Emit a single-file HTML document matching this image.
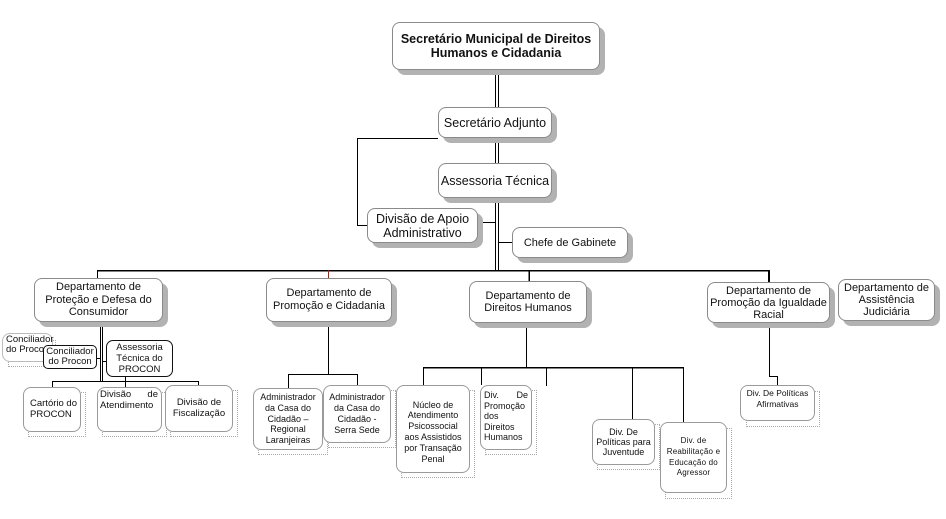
<!DOCTYPE html>
<html>
<head>
<meta charset="utf-8">
<style>
  html,body{margin:0;padding:0;background:#fff;}
  body{width:946px;height:519px;position:relative;overflow:hidden;font-family:"Liberation Sans",Arial,sans-serif;color:#111;}
  svg{position:absolute;left:0;top:0;}
  .b{position:absolute;box-sizing:border-box;background:#fff;border:1px solid #8a8a8a;border-radius:8px;
     box-shadow:5px 5px 0 #b2b2b2;display:flex;flex-direction:column;justify-content:center;align-items:center;text-align:center;white-space:nowrap;}
  .s{position:absolute;box-sizing:border-box;background:#fff;border:1px solid #9a9a9a;border-radius:8px;
     display:flex;flex-direction:column;justify-content:center;align-items:center;text-align:center;white-space:nowrap;font-size:9px;line-height:10.8px;}
  .d{position:absolute;box-sizing:border-box;border:1px dotted #aaa;}
  .k{border-color:#111;}
</style>
</head>
<body>
<svg width="946" height="519" viewBox="0 0 946 519" shape-rendering="crispEdges">
  <g stroke="#000" stroke-width="1" fill="none">
    <line x1="495.5" y1="70" x2="495.5" y2="271"/>
    <line x1="498.5" y1="70" x2="498.5" y2="271"/>
    <polyline points="438,138.5 357.5,138.5 357.5,225.5 367,225.5"/>
    <line x1="478" y1="222.5" x2="495" y2="222.5"/>
    <line x1="498" y1="242.5" x2="512" y2="242.5"/>
    <line x1="97" y1="270.5" x2="769" y2="270.5" stroke-width="1.5"/>
    <line x1="97.5" y1="270" x2="97.5" y2="278"/>
    <line x1="328.5" y1="270" x2="328.5" y2="278" stroke="#8a3020"/>
    <line x1="529" y1="270" x2="529" y2="281" stroke-width="1.5"/>
    <line x1="769" y1="270" x2="769" y2="282" stroke-width="2"/>
    <line x1="100.5" y1="322" x2="100.5" y2="381"/>
    <line x1="102.5" y1="322" x2="102.5" y2="381"/>
    <line x1="52" y1="381.5" x2="198" y2="381.5"/>
    <line x1="52.5" y1="381" x2="52.5" y2="387"/>
    <line x1="125.5" y1="377" x2="125.5" y2="387"/>
    <line x1="198.5" y1="381" x2="198.5" y2="385"/>
    <line x1="97" y1="358.5" x2="100" y2="358.5"/>
    <line x1="102" y1="361.5" x2="106" y2="361.5"/>
    <line x1="328.5" y1="322" x2="328.5" y2="374"/>
    <line x1="288" y1="374.5" x2="357" y2="374.5"/>
    <line x1="288.5" y1="374" x2="288.5" y2="388"/>
    <line x1="357.5" y1="374" x2="357.5" y2="385"/>
    <line x1="526.5" y1="323" x2="526.5" y2="367"/>
    <line x1="423" y1="367.5" x2="683" y2="367.5" stroke-width="1.5"/>
    <line x1="423.5" y1="367" x2="423.5" y2="385"/>
    <line x1="481.5" y1="367" x2="481.5" y2="385"/>
    <line x1="546.5" y1="367" x2="546.5" y2="386"/>
    <line x1="632.5" y1="367" x2="632.5" y2="419"/>
    <line x1="683.5" y1="367" x2="683.5" y2="422"/>
    <polyline points="769.5,323 769.5,376.5 777.5,376.5 777.5,385"/>
  </g>
</svg>

<div class="b" style="left:392px;top:22px;width:208px;height:48px;font-weight:bold;font-size:12.5px;line-height:14px;">
  <div>Secretário Municipal de Direitos</div><div>Humanos e Cidadania</div>
</div>
<div class="b" style="left:438px;top:107px;width:114px;height:31px;font-size:12.5px;">Secretário Adjunto</div>
<div class="b" style="left:438px;top:163px;width:114px;height:35px;font-size:12.5px;">Assessoria Técnica</div>
<div class="b" style="left:367px;top:208px;width:111px;height:35px;font-size:12.5px;line-height:14px;">
  <div>Divisão de Apoio</div><div>Administrativo</div>
</div>
<div class="b" style="left:512px;top:227px;width:116px;height:31px;font-size:11px;">Chefe de Gabinete</div>

<div class="b" style="left:34px;top:278px;width:129px;height:44px;font-size:11px;line-height:12.5px;">
  <div>Departamento de</div><div>Proteção e Defesa do</div><div>Consumidor</div>
</div>
<div class="b" style="left:266px;top:278px;width:126px;height:44px;font-size:11px;line-height:13px;">
  <div>Departamento de</div><div>Promoção e Cidadania</div>
</div>
<div class="b" style="left:469px;top:281px;width:118px;height:42px;font-size:11px;line-height:12.5px;">
  <div>Departamento de</div><div>Direitos Humanos</div>
</div>
<div class="b" style="left:707px;top:282px;width:123px;height:41px;font-size:11px;line-height:12px;">
  <div>Departamento de</div><div>Promoção da Igualdade</div><div>Racial</div>
</div>
<div class="b" style="left:838px;top:279px;width:97px;height:42px;font-size:11px;line-height:12px;justify-content:flex-start;padding-top:2px;">
  <div>Departamento de</div><div>Assistência</div><div>Judiciária</div>
</div>

<div class="d" style="left:8px;top:340px;width:48px;height:27px;"></div>
<div class="s" style="left:2px;top:333px;width:51px;height:29px;border-color:#bbb;font-size:9.5px;line-height:10px;align-items:flex-start;justify-content:flex-start;padding:1px 0 0 3px;">
  <div>Conciliador</div><div>do Procon</div>
</div>
<div class="s k" style="left:43px;top:345px;width:54px;height:24px;border-radius:5px;font-size:9.5px;line-height:10px;">
  <div>Conciliador</div><div>do Procon</div>
</div>
<div class="s k" style="left:106px;top:340px;width:67px;height:37px;border-radius:7px;font-size:9.5px;line-height:11px;">
  <div>Assessoria</div><div>Técnica do</div><div>PROCON</div>
</div>

<div class="d" style="left:28px;top:392px;width:58px;height:45px;"></div>
<div class="s" style="left:23px;top:387px;width:58px;height:45px;font-size:9.5px;align-items:flex-start;padding-left:6px;">
  <div>Cartório do</div><div>PROCON</div>
</div>
<div class="d" style="left:102px;top:392px;width:65px;height:45px;"></div>
<div class="s" style="left:97px;top:387px;width:65px;height:45px;font-size:9.5px;justify-content:flex-start;align-items:stretch;text-align:left;padding:2px 3px 0 2px;">
  <div style="display:flex;justify-content:space-between;"><span>Divisão</span><span>de</span></div><div>Atendimento</div>
</div>
<div class="d" style="left:170px;top:390px;width:68px;height:47px;"></div>
<div class="s" style="left:165px;top:385px;width:68px;height:47px;font-size:9.5px;">
  <div>Divisão de</div><div>Fiscalização</div>
</div>

<div class="d" style="left:258px;top:393px;width:70px;height:62px;"></div>
<div class="s" style="left:253px;top:388px;width:70px;height:62px;">
  <div>Administrador</div><div>da Casa do</div><div>Cidadão –</div><div>Regional</div><div>Laranjeiras</div>
</div>
<div class="d" style="left:328px;top:390px;width:68px;height:58px;"></div>
<div class="s" style="left:323px;top:385px;width:68px;height:58px;">
  <div>Administrador</div><div>da Casa do</div><div>Cidadão -</div><div>Serra Sede</div>
</div>

<div class="d" style="left:401px;top:390px;width:74px;height:88px;"></div>
<div class="s" style="left:396px;top:385px;width:74px;height:88px;padding-top:6px;">
  <div>Núcleo de</div><div>Atendimento</div><div>Psicossocial</div><div>aos Assistidos</div><div>por Transação</div><div>Penal</div>
</div>
<div class="d" style="left:485px;top:390px;width:52px;height:65px;"></div>
<div class="s" style="left:480px;top:385px;width:52px;height:65px;justify-content:flex-start;align-items:stretch;text-align:left;padding:4px 3px 0 3px;line-height:10.5px;">
  <div style="display:flex;justify-content:space-between;"><span>Div.</span><span>De</span></div><div>Promoção</div><div>dos</div><div>Direitos</div><div>Humanos</div>
</div>
<div class="d" style="left:597px;top:424px;width:63px;height:46px;"></div>
<div class="s" style="left:592px;top:419px;width:63px;height:46px;line-height:10px;">
  <div>Div. De</div><div>Políticas para</div><div>Juventude</div>
</div>
<div class="d" style="left:665px;top:428px;width:67px;height:71px;"></div>
<div class="s" style="left:660px;top:422px;width:67px;height:71px;font-size:8px;line-height:10.7px;letter-spacing:0.2px;">
  <div>Div. de</div><div>Reabilitação e</div><div>Educação do</div><div>Agressor</div>
</div>

<div class="d" style="left:746px;top:391px;width:74px;height:36px;"></div>
<div class="s" style="left:740px;top:385px;width:75px;height:36px;font-size:8.5px;line-height:11px;justify-content:flex-start;padding-top:2px;">
  <div>Div. De Políticas</div><div>Afirmativas</div>
</div>
</body>
</html>
